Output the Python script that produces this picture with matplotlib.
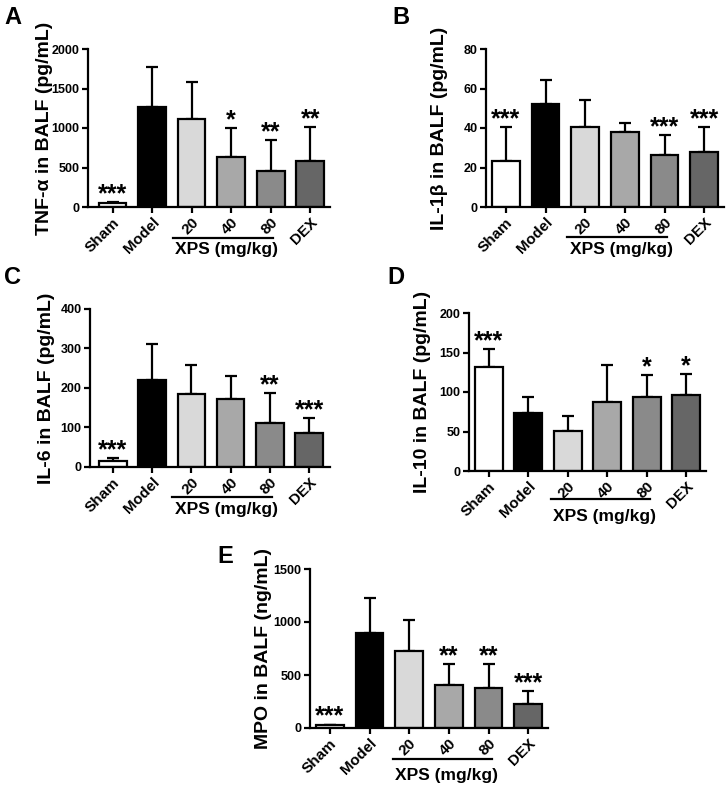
#!/usr/bin/env python

import matplotlib
matplotlib.use("Agg")
import matplotlib.pyplot as plt
import matplotlib.transforms as mtransforms

plt.rcParams["font.family"] = ["Liberation Sans", "DejaVu Sans"]
plt.rcParams["font.weight"] = "bold"

groups = ["Sham", "Model", "20", "40", "80", "DEX"]
colors = ["white", "black", "#d9d9d9", "#a8a8a8", "#8a8a8a", "#666666"]

# mean and upper error bar (SD) per panel
tnf_mean = [45, 1262, 1115, 638, 450, 588]
tnf_err = [18, 513, 470, 366, 402, 430]
tnf_stars = ["***", "", "", "*", "**", "**"]

il1b_mean = [23.4, 52.2, 40.6, 37.9, 26.1, 27.8]
il1b_err = [17.2, 12.0, 13.8, 4.7, 10.3, 12.8]
il1b_stars = ["***", "", "", "", "***", "***"]

il6_mean = [16, 220, 185, 171, 112, 87]
il6_err = [6, 91, 73, 59, 76, 37]
il6_stars = ["***", "", "", "", "**", "***"]

il10_mean = [131.5, 73.6, 50.3, 87.0, 93.4, 96.8]
il10_err = [23.3, 20.7, 19.9, 46.6, 28.0, 25.4]
il10_stars = ["***", "", "", "", "*", "*"]

mpo_mean = [25, 894, 728, 405, 380, 229]
mpo_err = [8, 330, 292, 197, 225, 122]
mpo_stars = ["***", "", "", "**", "**", "***"]

W, H = 726, 787


def px_axes(fig, left, right, top, bottom):
    return fig.add_axes([left / W, 1 - bottom / H, (right - left) / W, (bottom - top) / H])


def panel(ax, means, errs, stars, ymax, step, ylabel, xl, lab_px, line_x, line_y, text_y):
    x = list(range(len(groups)))
    ax.errorbar(x, means, yerr=[[0] * len(errs), errs], fmt="none", ecolor="black",
                elinewidth=1.6, capsize=4.5, capthick=1.6, zorder=1)
    ax.bar(x, means, width=0.7, color=colors, edgecolor="black", linewidth=1.6, zorder=2)
    for xi, m, e, s in zip(x, means, errs, stars):
        if s:
            ax.annotate(s, (xi, m + e), xytext=(0, 0.5), textcoords="offset points",
                        ha="center", va="baseline", fontsize=18, fontweight="bold")
    ax.set_xlim(xl[0], xl[1])
    ax.set_ylim(0, ymax)
    ax.set_yticks(range(0, ymax + 1, step))
    ax.set_xticks(x)
    ax.set_xticklabels(groups, rotation=45, ha="right", rotation_mode="anchor")
    ax.set_ylabel(ylabel, fontsize=14, fontweight="bold")
    bb = ax.get_position()
    ax.yaxis.set_label_coords(-lab_px / (bb.width * W), 0.5)
    for side in ["top", "right"]:
        ax.spines[side].set_visible(False)
    for side in ["left", "bottom"]:
        ax.spines[side].set_linewidth(1.6)
    ax.tick_params(axis="both", width=1.6, length=4, pad=2)
    ax.tick_params(axis="y", labelsize=9)
    ax.tick_params(axis="x", labelsize=11)
    for lab in ax.get_xticklabels() + ax.get_yticklabels():
        lab.set_fontweight("bold")
    trans = mtransforms.blended_transform_factory(ax.transData, ax.transAxes)
    ax.plot(line_x, [line_y, line_y], color="black", lw=1.6, transform=trans, clip_on=False)
    ax.text(sum(line_x) / 2 + 0.1, text_y, "XPS (mg/kg)", transform=trans, ha="center",
            va="center", fontsize=12.5, fontweight="bold")


fig = plt.figure(figsize=(W / 100, H / 100), dpi=100)

axA = px_axes(fig, 88, 330, 49, 207)
panel(axA, tnf_mean, tnf_err, tnf_stars, 2000, 500, "TNF-α in BALF (pg/mL)",
      (-0.62, 5.5), 35, (1.52, 4.06), -0.195, -0.266)
axB = px_axes(fig, 486, 724, 49, 207)
panel(axB, il1b_mean, il1b_err, il1b_stars, 80, 20, "IL-1β in BALF (pg/mL)",
      (-0.5, 5.5), 38, (1.54, 4.07), -0.19, -0.266)
axC = px_axes(fig, 90, 330, 309, 467)
panel(axC, il6_mean, il6_err, il6_stars, 400, 100, "IL-6 in BALF (pg/mL)",
      (-0.58, 5.53), 35, (1.52, 4.06), -0.19, -0.266)
axD = px_axes(fig, 469, 706, 313, 471)
panel(axD, il10_mean, il10_err, il10_stars, 200, 50, "IL-10 in BALF (pg/mL)",
      (-0.5, 5.5), 38, (1.57, 4.09), -0.177, -0.29)
axE = px_axes(fig, 310, 548, 569, 728)
panel(axE, mpo_mean, mpo_err, mpo_stars, 1500, 500, "MPO in BALF (ng/mL)",
      (-0.5, 5.5), 38, (1.59, 4.1), -0.195, -0.3)

for letter, lx, ly in [("A", 4, 6), ("B", 392, 6), ("C", 4, 266), ("D", 387, 266), ("E", 217, 545)]:
    fig.text(lx / W, 1 - ly / H, letter, ha="left", va="top", fontsize=17, fontweight="bold")

fig.savefig("out.png", dpi=100)
